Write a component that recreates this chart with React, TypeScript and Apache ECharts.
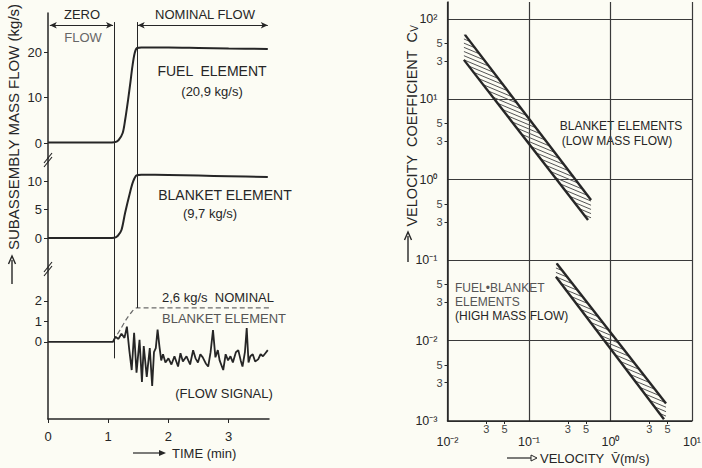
import React, { useEffect, useRef } from 'react';
import * as echarts from 'echarts';

const FONT = '"Liberation Sans", Arial, sans-serif';
const INK = '#262626';
const GREY = '#555555';
const BG = '#fcfcf4';

// ---------- left chart data ----------
const timeTicks = [0, 1, 2, 3];
const fuelTicks = [0, 10, 20];
const blanketTicks = [0, 5, 10];
const signalTicks = [0, 1, 2];

const fuelTime = [0, 0.5, 1.0, 1.1, 1.17, 1.24, 1.28, 1.33, 1.37, 1.4, 1.44, 1.48, 1.55, 2.0, 2.5, 3.0, 3.65];
const fuelFlow = [0.1, 0.1, 0.1, 0.15, 0.6, 2.2, 5.0, 9.5, 13.5, 16.7, 19.8, 20.9, 21.0, 21.0, 20.9, 20.8, 20.7];

const blanketTime = [0, 0.5, 1.0, 1.1, 1.16, 1.22, 1.28, 1.36, 1.41, 1.47, 1.55, 2.0, 2.5, 3.0, 3.65];
const blanketFlow = [0, 0, 0, 0.05, 0.4, 1.4, 4.4, 7.9, 9.8, 11.0, 11.1, 11.05, 10.95, 10.85, 10.7];

const nominalTime = [1.08, 1.2, 1.3, 1.4, 1.47, 3.67];
const nominalFlow = [0.05, 0.6, 1.1, 1.5, 1.66, 1.66];

const signalTime = [0, 0.5, 1.0, 1.08, 1.12, 1.17, 1.22, 1.27, 1.31, 1.35, 1.39, 1.43, 1.47, 1.52, 1.56, 1.59, 1.64, 1.69, 1.73, 1.76, 1.79, 1.82, 1.85, 1.88, 1.91, 1.95, 2.0, 2.05, 2.1, 2.16, 2.2, 2.24, 2.3, 2.36, 2.41, 2.45, 2.49, 2.53, 2.57, 2.62, 2.66, 2.7, 2.74, 2.78, 2.82, 2.85, 2.91, 2.95, 2.99, 3.03, 3.07, 3.12, 3.16, 3.2, 3.23, 3.27, 3.3, 3.33, 3.36, 3.4, 3.44, 3.49, 3.53, 3.57, 3.61, 3.65];
const signalFlow = [0, 0, 0, 0.0, 0.25, 0.15, 0.4, 0.2, 0.75, -0.4, -1.37, 0.45, -1.5, 0.1, -1.95, -0.2, -1.7, -0.3, -2.15, -0.5, -0.3, 0.6, -0.2, -0.9, -0.6, -1.0, -0.8, -1.1, -0.7, -1.2, -0.55, -0.95, -0.7, -1.1, -0.4, -0.8, -1.0, -0.6, -0.75, -1.05, -1.2, -0.5, 0.58, -0.75, -0.4, -0.9, -1.37, -0.6, -0.9, -0.7, -1.0, -0.5, -0.4, -0.9, -1.2, -0.5, 0.68, -1.0, -0.7, -0.6, -0.95, -0.85, -0.6, -0.7, -0.55, -0.4];

const zeroFlowEnd = 1.095;
const nominalStart = 1.476;

// ---------- right chart data ----------
const decadeX = [0.01, 0.1, 1, 10];
const minorX = [0.03, 0.05, 0.3, 0.5, 3, 5];
const decadeY = [0.001, 0.01, 0.1, 1, 10, 100];
const minorY = [0.003, 0.005, 0.03, 0.05, 0.3, 0.5, 3, 5, 30, 50];

const blanketUpper = [[0.0164, 63.2], [0.577, 0.561]];
const blanketLower = [[0.0159, 30.9], [0.53, 0.316]];
const fuelUpper = [[0.219, 0.091], [4.8, 0.00165]];
const fuelLower = [[0.214, 0.062], [4.53, 0.00105]];

// ---------- helpers ----------
const SUP: Record<string, string> = { '-': '\u207B', '0': '\u2070', '1': '\u00B9', '2': '\u00B2', '3': '\u00B3' };
const decadeLabel = (v: number) => {
  const e = Math.round(Math.log10(v));
  return '10' + String(e).split('').map((c) => SUP[c] || c).join('');
};
const minorLabel = (v: number) => {
  const p = Math.pow(10, Math.floor(Math.log10(v) + 1e-9));
  return String(Math.round(v / p));
};
const zip = (a: number[], b: number[]) => a.map((x, i) => [x, b[i]]);

const hatchRender = (m: number, spacing: number) => (params: any, api: any) => {
  const u1 = api.coord([api.value(0), api.value(1)]);
  const u2 = api.coord([api.value(2), api.value(3)]);
  const l1 = api.coord([api.value(4), api.value(5)]);
  const l2 = api.coord([api.value(6), api.value(7)]);
  const xMin = Math.min(u1[0], l1[0]);
  const xMax = Math.max(u2[0], l2[0]);
  const ux = u2[0] - u1[0];
  const uy = u2[1] - u1[1];
  const ldx = l2[0] - l1[0];
  const ldy = l2[1] - l1[1];
  const n = Math.floor(ldy / spacing);
  const children: any[] = [];
  for (let i = -8; i <= n; i++) {
    const t = (i * spacing) / ldy;
    let sx = l1[0] + t * ldx;
    let sy = l1[1] + t * ldy;
    const bx = u1[0] - sx;
    const by = u1[1] - sy;
    const det = -uy + ux * m;
    const s = (-bx * uy + ux * by) / det;
    let ex = sx + s;
    let ey = sy + s * m;
    if (t > 1) continue;
    if (sx < xMin) {
      if (ex <= xMin) continue;
      sy = sy + (xMin - sx) * m;
      sx = xMin;
    }
    if (ex > xMax) {
      if (sx >= xMax) continue;
      ey = ey - (ex - xMax) * m;
      ex = xMax;
    }
    children.push({
      type: 'line',
      shape: { x1: sx, y1: sy, x2: ex, y2: ey },
      style: { stroke: GREY, lineWidth: 1 },
    });
  }
  return { type: 'group', children };
};

const txt = (text: string, x: number, y: number, size = 13, align = 'center', color = INK, extra: any = {}) => ({
  type: 'text',
  x,
  y,
  silent: true,
  style: { text, fill: color, font: `${size}px ${FONT}`, textAlign: align, textVerticalAlign: 'middle', ...extra },
});

const line = (x1: number, y1: number, x2: number, y2: number, w = 1.2, color = INK) => ({
  type: 'line',
  silent: true,
  shape: { x1, y1, x2, y2 },
  style: { stroke: color, lineWidth: w },
});

const vline = (x: number, y0: number, y1: number) => [{ coord: [x, y0] }, { coord: [x, y1] }];

export default function App() {
  const ref = useRef<HTMLDivElement>(null);
  useEffect(() => {
    if (!ref.current) return;
    const chart = echarts.init(ref.current, undefined, { renderer: 'svg' });

    const fuelMin = -3.3, fuelMax = 28.6;
    const blMin = -5.26, blMax = 14.04;
    const sgMin = -3.76, sgMax = 3.61;

    const leftY = (min: number, max: number, ticks: number[], idx: number) => ({
      type: 'value',
      gridIndex: idx,
      min,
      max,
      axisLine: { show: true, lineStyle: { color: INK, width: 1.5 } },
      axisTick: { show: true, length: 4, customValues: ticks, lineStyle: { color: INK, width: 1 } },
      axisLabel: { show: true, customValues: ticks, margin: 6, color: INK, fontSize: 13, fontFamily: FONT },
      splitLine: { show: false },
    });
    const leftX = (idx: number, show: boolean) => ({
      type: 'value',
      gridIndex: idx,
      min: 0,
      max: 3.67,
      show,
      axisLine: { show: true, onZero: false, lineStyle: { color: INK, width: 1.5 } },
      axisTick: { show: true, length: 4, customValues: timeTicks, lineStyle: { color: INK } },
      axisLabel: { show: true, customValues: timeTicks, margin: 11, color: INK, fontSize: 13, fontFamily: FONT },
      splitLine: { show: false },
    });

    const gridL = 48, gridW = 221;
    const option: any = {
      animation: false,
      backgroundColor: BG,
      grid: [
        { left: gridL, width: gridW, top: 13, height: 145, outerBoundsMode: 'none' },
        { left: gridL, width: gridW, top: 158, height: 110, outerBoundsMode: 'none' },
        { left: gridL, width: gridW, top: 268, height: 151, outerBoundsMode: 'none' },
        { left: 447.5, width: 244.5, top: 2, height: 419, outerBoundsMode: 'none' },
      ],
      xAxis: [
        leftX(0, false),
        leftX(1, false),
        leftX(2, true),
        {
          type: 'log',
          gridIndex: 3,
          min: 0.01,
          max: 10,
          axisLine: { show: true, onZero: false, lineStyle: { color: INK, width: 1.5 } },
          axisTick: { show: false, customValues: decadeX },
          axisLabel: { customValues: decadeX, formatter: decadeLabel, margin: 14, color: INK, fontSize: 12.5, fontFamily: FONT },
          splitLine: { show: true, lineStyle: { color: '#3a3a3a', width: 1.2 } },
        },
        {
          type: 'log',
          gridIndex: 3,
          min: 0.01,
          max: 10,
          position: 'bottom',
          offset: 0,
          axisLine: { show: false },
          axisTick: { show: true, length: 3, customValues: minorX, lineStyle: { color: INK } },
          axisLabel: { customValues: minorX, formatter: minorLabel, margin: 2, color: '#444', fontSize: 11, fontFamily: FONT },
          splitLine: { show: false },
        },
      ],
      yAxis: [
        leftY(fuelMin, fuelMax, fuelTicks, 0),
        leftY(blMin, blMax, blanketTicks, 1),
        leftY(sgMin, sgMax, signalTicks, 2),
        {
          type: 'log',
          gridIndex: 3,
          min: 0.001,
          max: 162,
          axisLine: { show: true, onZero: false, lineStyle: { color: INK, width: 1.5 } },
          axisTick: { show: false, customValues: decadeY },
          axisLabel: { customValues: decadeY, formatter: decadeLabel, margin: 10, color: INK, fontSize: 12.5, fontFamily: FONT },
          splitLine: { show: true, lineStyle: { color: '#3a3a3a', width: 1.2 } },
        },
        {
          type: 'log',
          gridIndex: 3,
          min: 0.001,
          max: 162,
          position: 'left',
          offset: 0,
          axisLine: { show: false },
          axisTick: { show: true, length: 3, customValues: minorY, lineStyle: { color: INK } },
          axisLabel: { customValues: minorY, formatter: minorLabel, margin: 5, color: '#444', fontSize: 11, fontFamily: FONT },
          splitLine: { show: false },
        },
      ],
      series: [
        {
          type: 'line',
          xAxisIndex: 0,
          yAxisIndex: 0,
          data: zip(fuelTime, fuelFlow),
          smooth: 0.3,
          showSymbol: false,
          lineStyle: { color: INK, width: 2 },
          markLine: {
            silent: true,
            symbol: ['none', 'none'],
            label: { show: false },
            lineStyle: { color: INK, width: 1, type: 'solid' },
            data: [
              vline(zeroFlowEnd, 26.6, fuelMin),
              vline(nominalStart, 26.6, fuelMin),
              [
                { coord: [0.03, 25.9], symbol: 'arrow', symbolSize: [5, 7] },
                { coord: [1.08, 25.9], symbol: 'arrow', symbolSize: [5, 7] },
              ],
              [
                { coord: [1.49, 25.9], symbol: 'arrow', symbolSize: [5, 7] },
                { coord: [3.65, 25.9], symbol: 'arrow', symbolSize: [5, 7] },
              ],
            ],
          },
        },
        {
          type: 'line',
          xAxisIndex: 1,
          yAxisIndex: 1,
          data: zip(blanketTime, blanketFlow),
          smooth: 0.3,
          showSymbol: false,
          lineStyle: { color: INK, width: 2 },
          markLine: {
            silent: true,
            symbol: ['none', 'none'],
            label: { show: false },
            lineStyle: { color: INK, width: 1, type: 'solid' },
            data: [vline(zeroFlowEnd, blMax, blMin), vline(nominalStart, blMax, blMin)],
          },
        },
        {
          type: 'line',
          xAxisIndex: 2,
          yAxisIndex: 2,
          data: zip(nominalTime, nominalFlow),
          smooth: 0.3,
          showSymbol: false,
          lineStyle: { color: '#6a6a6a', width: 1.2, type: [5, 3] },
        },
        {
          type: 'line',
          xAxisIndex: 2,
          yAxisIndex: 2,
          data: zip(signalTime, signalFlow),
          showSymbol: false,
          lineStyle: { color: INK, width: 1.8 },
          markLine: {
            silent: true,
            symbol: ['none', 'none'],
            label: { show: false },
            lineStyle: { color: INK, width: 1, type: 'solid' },
            data: [vline(zeroFlowEnd, sgMax, -0.8), vline(nominalStart, sgMax, 1.66)],
          },
        },
        // hatching
        {
          type: 'custom',
          xAxisIndex: 3,
          yAxisIndex: 3,
          silent: true,
          encode: { x: [0, 2, 4, 6], y: [1, 3, 5, 7] },
          renderItem: hatchRender(0.42, 6.2),
          data: [[...blanketUpper[0], ...blanketUpper[1], ...blanketLower[0], ...blanketLower[1]]],
          z: 1,
        },
        {
          type: 'custom',
          xAxisIndex: 3,
          yAxisIndex: 3,
          silent: true,
          encode: { x: [0, 2, 4, 6], y: [1, 3, 5, 7] },
          renderItem: hatchRender(0.42, 6.5),
          data: [[...fuelUpper[0], ...fuelUpper[1], ...fuelLower[0], ...fuelLower[1]]],
          z: 1,
        },
        ...[blanketUpper, blanketLower, fuelUpper, fuelLower].map((d) => ({
          type: 'line',
          xAxisIndex: 3,
          yAxisIndex: 3,
          data: d,
          showSymbol: false,
          lineStyle: { color: INK, width: 2.4 },
          z: 3,
        })),
      ],
      graphic: [
        // left chart annotations
        txt('ZERO', 82, 14, 13),
        txt('FLOW', 83, 37, 13, 'center', '#666'),
        txt('NOMINAL FLOW', 205, 14, 13),
        txt('FUEL  ELEMENT', 212, 71, 14),
        txt('(20,9 kg/s)', 212, 91, 13),
        txt('BLANKET ELEMENT', 225, 195, 14),
        txt('(9,7 kg/s)', 210, 213, 13),
        txt('2,6 kg/s  NOMINAL', 162, 297, 13, 'left'),
        txt('BLANKET ELEMENT', 162, 318, 13, 'left', '#555'),
        txt('(FLOW SIGNAL)', 224, 393, 13),
        txt('TIME (min)', 172, 453, 13, 'left'),
        line(133, 453, 160, 453, 1.2),
        { type: 'polygon', silent: true, shape: { points: [[166, 453], [159, 450], [159, 456]] }, style: { fill: INK } },
        {
          type: 'text',
          x: 13,
          y: 127,
          rotation: Math.PI / 2,
          silent: true,
          style: { text: 'SUBASSEMBLY MASS FLOW (kg/s)', fill: INK, font: `15px ${FONT}`, textAlign: 'center', textVerticalAlign: 'middle' },
        },
        line(12, 284, 12, 260, 1.4),
        { type: 'polyline', silent: true, shape: { points: [[8.5, 264], [12, 256], [15.5, 264]] }, style: { stroke: INK, lineWidth: 1.4, fill: 'none' } },
        // axis break marks
        line(44, 163, 52, 153, 1.2),
        line(44, 167, 52, 157, 1.2),
        line(44, 272, 52, 262, 1.2),
        line(44, 276, 52, 266, 1.2),
        // right chart annotations
        txt('BLANKET ELEMENTS', 621, 126, 12),
        txt('(LOW MASS FLOW)', 617, 141, 12),
        txt('FUEL\u2022BLANKET', 455, 288, 12, 'left', '#555'),
        txt('ELEMENTS', 455, 302, 12, 'left', '#555'),
        txt('(HIGH MASS FLOW)', 455, 316, 12, 'left'),
        txt('VELOCITY  V\u0304(m/s)', 540, 458, 13, 'left'),
        line(507, 458, 531, 458, 1.2),
        { type: 'polygon', silent: true, shape: { points: [[537, 458], [531, 455], [531, 461]] }, style: { fill: 'none', stroke: INK, lineWidth: 1 } },
        {
          type: 'text',
          x: 412,
          y: 126,
          rotation: Math.PI / 2,
          silent: true,
          style: {
            text: '{a|VELOCITY  COEFFICIENT  C}{b|V}',
            textAlign: 'center',
            textVerticalAlign: 'middle',
            rich: {
              a: { fill: INK, font: `14.5px ${FONT}` },
              b: { fill: INK, font: `10px ${FONT}`, padding: [5, 0, 0, 0] },
            },
          },
        },
        line(408, 262, 408, 236, 1.4),
        { type: 'polyline', silent: true, shape: { points: [[404.5, 240], [408, 232], [411.5, 240]] }, style: { stroke: INK, lineWidth: 1.4, fill: 'none' } },
      ],
    };
    chart.setOption(option);
    return () => chart.dispose();
  }, []);
  return <div ref={ref} style={{ position: 'fixed', left: 0, top: 0, width: 702, height: 468 }} />;
}
